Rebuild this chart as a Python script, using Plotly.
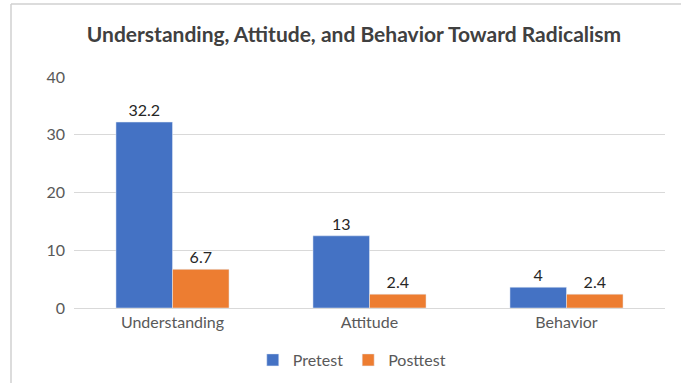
import plotly.graph_objects as go

categories = ["Understanding", "Attitude", "Behavior"]
pretest = [32.2, 12.5, 3.6]
posttest = [6.7, 2.4, 2.4]
pretest_labels = ["32.2", "13", "4"]
posttest_labels = ["6.7", "2.4", "2.4"]
y_ticks = [0, 10, 20, 30, 40]

FONT = "Lato, Open Sans, sans-serif"

fig = go.Figure()
fig.add_trace(go.Bar(name="Pretest", x=categories, y=pretest, text=pretest_labels,
                     textposition="outside", marker_color="#4472C4",
                     textfont=dict(size=16, color="#262626"), cliponaxis=False))
fig.add_trace(go.Bar(name="Posttest", x=categories, y=posttest, text=posttest_labels,
                     textposition="outside", marker_color="#ED7D31",
                     textfont=dict(size=16, color="#262626"), cliponaxis=False))

fig.update_layout(
    width=681, height=383,
    margin=dict(l=74, r=16, t=77, b=75, autoexpand=False),
    paper_bgcolor="white", plot_bgcolor="white",
    font=dict(family=FONT, color="#595959", size=16),
    barmode="group", bargap=0.426, bargroupgap=0,
    title=dict(text="<b>Understanding, Attitude, and Behavior Toward Radicalism</b>",
               x=354/681, xanchor="center", y=1 - 35/383, yanchor="middle",
               font=dict(size=21, color="#404040", family=FONT)),
    legend=dict(orientation="h", x=0.47, xanchor="center", yref="container",
                y=1 - 360/383, yanchor="middle",
                font=dict(size=16, color="#595959"), itemwidth=30, traceorder="normal"),
    xaxis=dict(showline=True, linecolor="#d9d9d9", ticks="", tickfont=dict(size=16, color="#595959")),
    yaxis=dict(range=[0, 40], tickvals=y_ticks, showgrid=True, gridcolor="#d9d9d9",
               zeroline=False, ticks="", tickfont=dict(size=16, color="#595959"), ticklabelstandoff=8),
    shapes=[
        dict(type="line", xref="paper", yref="paper", x0=(11 - 74) / 591, x1=(11 - 74) / 591,
             y0=(308 - 4) / 231, y1=(308 - 390) / 231, line=dict(color="#d0d0d0", width=1.5)),
        dict(type="line", xref="paper", yref="paper", x0=(11 - 74) / 591, x1=(690 - 74) / 591,
             y0=(308 - 4) / 231, y1=(308 - 4) / 231, line=dict(color="#d0d0d0", width=1.5)),
    ],
)

fig.write_html("out.html")
